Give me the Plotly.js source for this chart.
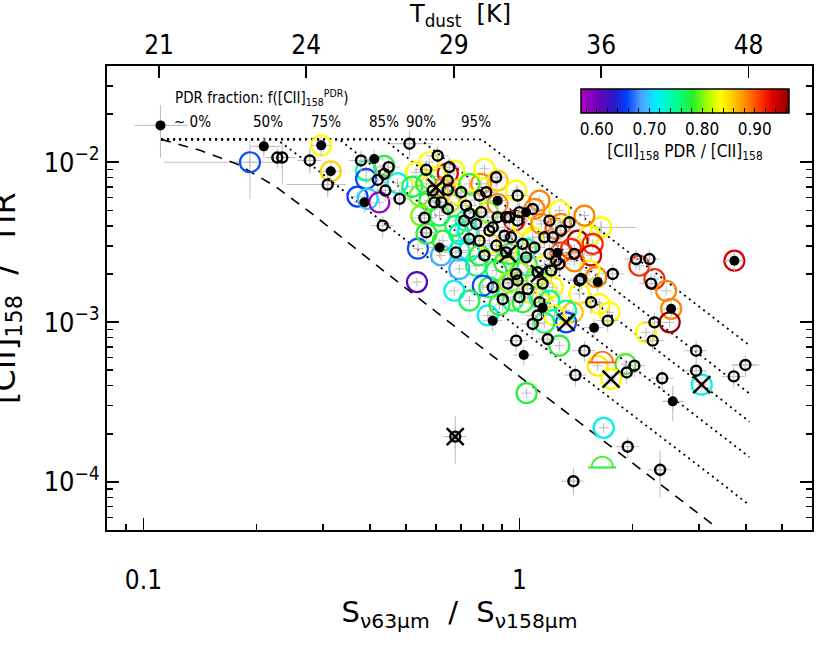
<!DOCTYPE html>
<html>
<head>
<meta charset="utf-8">
<script src="https://cdn.plot.ly/plotly-3.0.1.min.js"></script>
<style>
  html, body { margin: 0; padding: 0; background: white; }
  #plot { width: 830px; height: 645px; }
</style>
</head>
<body>
<div id="plot"></div>
<script>
// model curves: 0% PDR (dashed) and 50..95% PDR fraction (dotted)
var dashX = [0.1114, 0.1413, 0.1778, 0.2239, 0.2818, 0.3126, 0.4246, 0.7943, 1.585, 3.251];
var dashY = [0.0139, 0.01189, 0.00973, 0.00708, 0.00473, 0.00389, 0.00219, 0.000692, 0.0001995, 0.0000546];
var dot50X = [0.1114, 0.2262, 0.2818, 0.3126, 0.4246, 0.7943, 1.585, 3.251, 4.09];
var dot50Y = [0.0139, 0.0139, 0.00946, 0.00778, 0.00438, 0.00138, 0.000399, 0.000109, 0.0000715];
var dot75X = [0.1114, 0.3319, 0.4246, 0.7943, 1.585, 3.251, 4.09];
var dot75Y = [0.0139, 0.0139, 0.00875, 0.00277, 0.000798, 0.000218, 0.000143];
var dot85X = [0.1114, 0.4358, 0.7943, 1.585, 3.251, 4.09];
var dot85Y = [0.0139, 0.0139, 0.00461, 0.00133, 0.000364, 0.000238];
var dot90X = [0.1114, 0.5435, 0.7943, 1.585, 3.251, 4.09];
var dot90Y = [0.0139, 0.0139, 0.00692, 0.001995, 0.000546, 0.000357];
var dot95X = [0.1114, 0.7925, 1.585, 3.251, 4.09];
var dot95Y = [0.0139, 0.0139, 0.00399, 0.00109, 0.000715];
var pctLabels = ['~ 0%', '50%', '75%', '85%', '90%', '95%'];

// regions with a PDR fraction estimate (coloured circles)
var pdrX = [0.192, 0.297, 0.315, 0.391, 0.391, 0.474, 0.371, 0.395, 0.424, 0.437,
            0.576, 0.645, 0.531, 0.542, 0.576, 0.565, 0.632, 0.651, 0.548, 0.613,
            0.626, 0.537, 0.619, 0.692, 0.736, 0.692, 0.534, 0.519, 0.678, 0.791,
            0.875, 0.980, 0.875, 0.969, 1.096, 1.02, 0.721, 0.824, 0.728, 1.085,
            1.042, 0.94, 1.108, 0.832, 0.922, 0.767, 0.692, 0.868, 1.0, 0.832,
            0.959, 1.085, 1.13, 0.799, 1.02, 0.824, 1.178, 1.142, 1.29, 1.429,
            1.535, 1.649, 1.372, 1.566, 1.551, 1.29, 1.6, 1.227, 1.444, 2.085,
            2.286, 2.456, 2.532, 2.51, 2.173, 3.73, 1.632, 1.735, 1.386, 1.331,
            1.331, 1.277, 1.615, 1.914, 1.753, 3.054, 1.045, 1.676, 1.247, 0.566,
            0.606, 0.76, 0.675, 0.912, 1.165, 1.05, 0.94, 1.202, 1.24, 0.885,
            0.736, 0.671, 1.165, 1.535, 1.40, 0.783, 0.671, 0.736, 0.807, 1.13,
            1.277, 1.489];
var pdrY = [0.0100, 0.01275, 0.00878, 0.00887, 0.00787, 0.00741, 0.0061, 0.0059, 0.00561, 0.00949,
            0.0100, 0.00853, 0.00866, 0.00619, 0.00575, 0.00732, 0.00697, 0.00561, 0.00464, 0.00464,
            0.00323, 0.00288, 0.00261, 0.00280, 0.00280, 0.00215, 0.00178, 0.00704, 0.00634, 0.00732,
            0.00768, 0.00665, 0.00548, 0.00431, 0.0051, 0.00411, 0.00431, 0.00487, 0.00373, 0.00339,
            0.00287, 0.00267, 0.00191, 0.00309, 0.0028, 0.00225, 0.00356, 0.0021, 0.00204, 0.00165,
            0.00136, 0.0015, 0.00143, 0.00169, 0.00133, 0.0011, 0.00157, 0.00411, 0.00411, 0.00323,
            0.00347, 0.00391, 0.00287, 0.00308, 0.00261, 0.00273, 0.00191, 0.00165, 0.0015, 0.00225,
            0.00186, 0.00157, 0.00121, 0.000996, 0.000862, 0.00242, 0.0013, 0.00115, 0.00115, 0.000996,
            0.00118, 0.000712, 0.000533, 0.000546, 0.00044, 0.000406, 0.000359, 0.000218, 0.00384, 0.00357,
            0.00815, 0.0058, 0.0040, 0.00235, 0.00225, 0.00225, 0.00177, 0.00136, 0.0011, 0.00128,
            0.00136, 0.00157, 0.00099, 0.0021, 0.0024, 0.00261, 0.00887, 0.00732, 0.0091, 0.00575,
            0.00499, 0.00464];
var pdrFrac = [0.66, 0.835, 0.855, 0.745, 0.66, 0.72, 0.655, 0.70, 0.58, 0.78,
               0.835, 0.935, 0.835, 0.80, 0.78, 0.78, 0.885, 0.81, 0.80, 0.77,
               0.78, 0.66, 0.69, 0.72, 0.72, 0.69, 0.615, 0.77, 0.835, 0.88,
               0.855, 0.835, 0.885, 0.935, 0.885, 0.835, 0.745, 0.80, 0.72, 0.835,
               0.745, 0.77, 0.77, 0.835, 0.835, 0.76, 0.745, 0.77, 0.81, 0.77,
               0.76, 0.835, 0.73, 0.66, 0.78, 0.71, 0.835, 0.885, 0.885, 0.96,
               0.835, 0.835, 0.915, 0.915, 0.935, 0.91, 0.885, 0.835, 0.835, 0.915,
               0.915, 0.885, 0.885, 0.96, 0.835, 0.935, 0.835, 0.835, 0.86, 0.66,
               0.745, 0.78, 0.845, 0.79, 0.835, 0.72, 0.78, 0.72, 0.905, 0.78,
               0.835, 0.835, 0.77, 0.78, 0.835, 0.76, 0.81, 0.745, 0.835, 0.78,
               0.77, 0.72, 0.77, 0.835, 0.885, 0.78, 0.835, 0.79, 0.835, 0.885,
               0.835, 0.885];

// regions without a PDR estimate (small black circles)
var openX = [0.227, 0.234, 0.277, 0.309, 0.379, 0.449, 0.420, 0.44, 0.48, 0.433,
             0.51, 0.606, 0.651, 0.565, 0.437, 0.645, 0.594, 0.62, 0.645, 0.559,
             0.565, 0.721, 0.736, 0.783, 0.816, 0.867, 0.989, 0.989, 0.767, 0.849,
             0.922, 0.713, 0.736, 0.783, 0.832, 0.875, 1.0, 0.912, 0.95, 1.02,
             0.922, 1.042, 1.096, 1.165, 1.227, 0.98, 1.118, 1.202, 1.252,
             1.40, 1.444, 1.771, 0.849, 0.989, 1.13, 0.98,
             1.189, 1.489, 2.022, 0.791, 0.700, 0.645, 0.588, 1.358, 1.29, 1.459,
             2.043, 2.217, 2.24, 2.286, 2.262, 1.717, 1.551, 1.215, 1.277, 1.153,
             2.951, 2.951, 3.99, 3.715, 2.397, 1.929, 1.409, 1.085, 1.118,
             1.0, 0.931, 0.903, 1.052, 1.941, 1.392, 2.367, 0.678, 0.868,
             0.807, 1.085, 0.94, 1.202, 0.675];
var openY = [0.0107, 0.0107, 0.01026, 0.00725, 0.01026, 0.00932, 0.00775, 0.00665, 0.0059, 0.00401,
             0.01306, 0.01098, 0.00932, 0.00897, 0.00846, 0.00671, 0.00561, 0.00561, 0.0051, 0.00449,
             0.00364, 0.00535, 0.00478, 0.00619, 0.00649, 0.00805, 0.00619, 0.00431, 0.00411, 0.00391,
             0.00453, 0.00431, 0.00332, 0.00323, 0.00373, 0.00453, 0.00487, 0.00347, 0.00339, 0.00308,
             0.00273, 0.00254, 0.00293, 0.00339, 0.00339, 0.002, 0.00205, 0.00267, 0.00242,
             0.00267, 0.00182, 0.002, 0.00165, 0.00182, 0.00133, 0.000765,
             0.000783, 0.000662, 0.000533, 0.00487, 0.00649, 0.00768, 0.00665, 0.00421, 0.00373, 0.00186,
             0.00248, 0.00248, 0.00174, 0.000996, 0.000765, 0.00102, 0.00133, 0.0021, 0.00231, 0.00174,
             0.000662, 0.000496, 0.000539, 0.000457, 0.000445, 0.000484, 0.000466, 0.000973, 0.0011,
             0.00143, 0.00174, 0.00139, 0.00161, 0.000166, 0.000101, 0.000119, 0.00273, 0.00301,
             0.00261, 0.0051, 0.00453, 0.00431, 0.000192];

// nuclei (filled black)
var fillX = [0.111, 0.209, 0.297, 0.315, 0.411, 0.387, 0.613, 0.875, 1.042, 0.849,
             1.027, 1.153, 1.615, 2.532, 3.73, 2.557, 1.58, 1.262];
var fillY = [0.0170, 0.01257, 0.01275, 0.00878, 0.01047, 0.00561, 0.00293, 0.00575, 0.00487, 0.00102,
             0.000622, 0.00123, 0.00178, 0.00121, 0.00242, 0.000319, 0.000922, 0.00271];

// flagged regions (crosses)
var crossX = [0.600, 1.331, 1.753, 3.054, 0.931, 1.13, 0.675];
var crossY = [0.00697, 0.000996, 0.00044, 0.000406, 0.00267, 0.00201, 0.000192];

// upper limits (half circles)
var halfX = [1.662, 1.66];
var halfY = [0.000559, 0.000123];
var halfFrac = [0.895, 0.78];

// points with long error bars
var errX = [0.111, 0.192, 0.675, 1.392, 2.367, 2.557, 0.234, 0.51, 0.277, 0.309, 1.649, 3.73, 3.99, 0.209];
var errY = [0.0170, 0.0100, 0.000192, 0.000101, 0.000119, 0.000319, 0.0107, 0.01306, 0.01026, 0.00725, 0.00391, 0.00242, 0.000539, 0.01257];
var errXminus = [0.0164, 0.0785, 0.039, 0.05, 0.08, 0.157, 0.02, 0.059, 0.02, 0.069, 0.1, 0.26, 0.33, 0.016];
var errXplus = [0.020, 0.034, 0.043, 0.05, 0.08, 0.19, 0.02, 0.077, 0.02, 0.037, 0.40, 0.27, 0.36, 0.023];
var errYminus = [0.0063, 0.0041, 0.000062, 0.0000184, 0.0000387, 0.000078, 0.0034, 0.0023, 0.0018, 0.0012, 0.0004, 0.0003, 0.00006, 0.0012];
var errYplus = [0.0057, 0.0037, 0.000067, 0.00002, 0.000038, 0.000082, 0.0024, 0.0027, 0.0020, 0.0012, 0.0004, 0.0003, 0.00006, 0.0012];

// axes
var xTickVals = [0.1, 1];
var xTickText = ['0.1', '1'];
var xMinorVals = [0.08, 0.09, 0.2, 0.3, 0.4, 0.5, 0.6, 0.7, 0.8, 0.9, 2, 3, 4, 5];
var yTickVals = [0.0001, 0.001, 0.01];
var yTickText = ['10<sup>\u22124</sup>', '10<sup>\u22123</sup>', '10<sup>\u22122</sup>'];
var yMinorVals = [0.00005, 0.00006, 0.00007, 0.00008, 0.00009,
                  0.0002, 0.0003, 0.0004, 0.0005, 0.0006, 0.0007, 0.0008, 0.0009,
                  0.002, 0.003, 0.004, 0.005, 0.006, 0.007, 0.008, 0.009, 0.02, 0.03];
var tDustPos = [0.110, 0.271, 0.669, 1.65, 4.07];
var tDustText = ['21', '24', '29', '36', '48'];
var cbTickVals = [0.58, 0.60, 0.62, 0.64, 0.66, 0.68, 0.70, 0.72, 0.74, 0.76, 0.78, 0.80, 0.82, 0.84, 0.86, 0.88, 0.90, 0.92, 0.94, 0.96];
var cbTickText = [' ', '0.60', ' ', ' ', ' ', ' ', '0.70', ' ', ' ', ' ', ' ', '0.80', ' ', ' ', ' ', ' ', '0.90', ' ', ' ', ' '];

var FONT = "'DejaVu Sans Condensed', 'Liberation Sans Narrow', 'Liberation Sans', sans-serif";
var TFONT = "'DejaVu Sans', 'Liberation Sans', sans-serif";
var GREY = '#bdbdbd';
var rainbow = [[0, '#b000c8'], [0.08, '#7000b8'], [0.16, '#2818c8'], [0.22, '#0040ff'],
               [0.29, '#50a0ff'], [0.36, '#00f0ff'], [0.46, '#00ff90'], [0.54, '#28f028'],
               [0.61, '#a8ff00'], [0.67, '#ffff00'], [0.74, '#ffc000'], [0.80, '#ff8000'],
               [0.86, '#ff3800'], [0.92, '#e00000'], [1, '#8c0000']];

function dotted(x, y) {
    return {x: x, y: y, type: 'scatter', mode: 'lines', hoverinfo: 'skip',
            line: {color: 'black', width: 1.8, dash: '2px,4px'}};
}

var traces = [
    {x: errX, y: errY, type: 'scatter', mode: 'markers', hoverinfo: 'skip',
     marker: {size: 1, color: 'rgba(0,0,0,0)'},
     error_x: {type: 'data', symmetric: false, array: errXplus, arrayminus: errXminus, color: GREY, thickness: 1, width: 0},
     error_y: {type: 'data', symmetric: false, array: errYplus, arrayminus: errYminus, color: GREY, thickness: 1, width: 0}},
    {x: dashX, y: dashY, type: 'scatter', mode: 'lines', hoverinfo: 'skip',
     line: {color: 'black', width: 1.6, dash: '10px,8px'}},
    dotted(dot50X, dot50Y), dotted(dot75X, dot75Y), dotted(dot85X, dot85Y),
    dotted(dot90X, dot90Y), dotted(dot95X, dot95Y),
    {x: pdrX, y: pdrY, type: 'scatter', mode: 'markers',
     marker: {symbol: 'circle-open', size: 20, color: pdrFrac, cmin: 0.57, cmax: 0.965,
              colorscale: rainbow, line: {width: 2.2},
              showscale: true,
              colorbar: {orientation: 'h', x: (685 - 107) / 705, xanchor: 'center',
                         y: (530 - 89) / 464, yanchor: 'top', len: 208, lenmode: 'pixels',
                         thickness: 24, outlinewidth: 1.5, outlinecolor: 'black',
                         xpad: 0, ypad: 0,
                         tickvals: cbTickVals, ticktext: cbTickText, ticks: 'inside', tickangle: 0,
                         ticklen: 5, tickwidth: 1, tickcolor: 'black',
                         tickfont: {size: 17, family: FONT},
                         title: {text: '[CII]<sub>158</sub> PDR / [CII]<sub>158</sub>', side: 'bottom',
                                 font: {size: 17, family: FONT}}}},
     error_x: {type: 'percent', value: 3, color: GREY, thickness: 1, width: 0},
     error_y: {type: 'percent', value: 7, color: GREY, thickness: 1, width: 0}},
    {x: openX, y: openY, type: 'scatter', mode: 'markers',
     marker: {symbol: 'circle-open', size: 10, color: 'black', line: {width: 2.4}},
     error_x: {type: 'percent', value: 7, color: GREY, thickness: 1, width: 0},
     error_y: {type: 'percent', value: 15, color: GREY, thickness: 1, width: 0}},
    {x: fillX, y: fillY, type: 'scatter', mode: 'markers',
     marker: {symbol: 'circle', size: 10, color: 'black'},
     error_x: {type: 'percent', value: 6, color: GREY, thickness: 1, width: 0},
     error_y: {type: 'percent', value: 14, color: GREY, thickness: 1, width: 0}},
    {x: crossX, y: crossY, type: 'scatter', mode: 'markers',
     marker: {symbol: 'x-thin-open', size: 17, color: 'black', line: {width: 2.4, color: 'black'}}},
    {x: halfX, y: halfY, type: 'scatter', mode: 'text', text: ['\u25E0', '\u25E0'],
     textposition: 'middle center', textfont: {size: 30, family: 'DejaVu Sans', color: ['#ff6a00', '#40f020']}},
    {x: halfX, y: halfY, type: 'scatter', mode: 'markers',
     marker: {symbol: 'line-ew-open', size: 20, color: halfFrac, cmin: 0.57, cmax: 0.965,
              colorscale: rainbow, line: {width: 2}}},
    {x: tDustPos, y: [0.01, 0.01, 0.01, 0.01, 0.01], xaxis: 'x2', type: 'scatter', mode: 'markers',
     hoverinfo: 'skip', marker: {size: 1, color: 'rgba(0,0,0,0)'}}
];

var xRange = [Math.log10(0.08), Math.log10(6)];
var layout = {
    width: 830, height: 645,
    margin: {l: 107, r: 18, t: 66, b: 115},
    paper_bgcolor: 'white', plot_bgcolor: 'white',
    showlegend: false,
    font: {family: FONT, color: 'black'},
    xaxis: {type: 'log', range: xRange, tickmode: 'array', tickvals: xTickVals, ticktext: xTickText,
            ticks: 'inside', ticklen: 12, tickwidth: 1.5, tickcolor: 'black',
            showline: true, linewidth: 2, linecolor: 'black', showgrid: false, zeroline: false,
            tickfont: {size: 26}, ticklabelstandoff: 26,
            minor: {tickmode: 'array', tickvals: xMinorVals, ticks: 'inside', ticklen: 6, tickwidth: 1.5, tickcolor: 'black', showgrid: false},
            title: {text: 'S<sub>\u03BD63\u03BCm</sub>  /  S<sub>\u03BD158\u03BCm</sub>', font: {size: 29, family: TFONT}, standoff: 0}},
    xaxis2: {type: 'log', range: xRange, overlaying: 'x', side: 'top', tickmode: 'array',
             tickvals: tDustPos, ticktext: tDustText,
             ticks: 'inside', ticklen: 12, tickwidth: 1.5, tickcolor: 'black',
             showline: true, linewidth: 2, linecolor: 'black', showgrid: false, zeroline: false,
             tickfont: {size: 26}, ticklabelstandoff: 0},
    yaxis: {type: 'log', range: [Math.log10(0.00005), Math.log10(0.04)], tickmode: 'array',
            tickvals: yTickVals, ticktext: yTickText,
            ticks: 'inside', ticklen: 12, tickwidth: 1.5, tickcolor: 'black', mirror: 'ticks',
            showline: true, linewidth: 2, linecolor: 'black', showgrid: false, zeroline: false,
            tickfont: {size: 27},
            minor: {tickmode: 'array', tickvals: yMinorVals, ticks: 'inside', ticklen: 6, tickwidth: 1.5, tickcolor: 'black', showgrid: false}},
    annotations: [
        {text: 'T<sub>dust</sub>  [K]', xref: 'paper', yref: 'paper', x: 0.5, y: (530 - 15) / 464,
         xanchor: 'center', yanchor: 'middle', showarrow: false, font: {size: 24, family: TFONT}},
        {text: '[CII]<sub>158</sub>  /  TIR', xref: 'paper', yref: 'paper', x: (6 - 107) / 705, y: 0.5,
         xanchor: 'center', yanchor: 'middle', textangle: -90, showarrow: false, font: {size: 32, family: TFONT}},
        {text: 'PDR fraction: f([CII]<sub>158</sub><sup>PDR</sup>)', xref: 'paper', yref: 'paper',
         x: (173 - 107) / 705, y: (530 - 97) / 464, xanchor: 'left', yanchor: 'middle', showarrow: false, font: {size: 15}}
    ]
};

var pctPx = [192, 268, 326, 384, 421, 476];
pctLabels.forEach((lab, i) => {
    layout.annotations.push({text: lab, xref: 'paper', yref: 'paper', x: (pctPx[i] - 107) / 705,
                             y: (530 - 122) / 464, xanchor: 'center', yanchor: 'middle',
                             showarrow: false, font: {size: 15}});
});

Plotly.newPlot('plot', traces, layout, {staticPlot: true});
</script>
</body>
</html>
